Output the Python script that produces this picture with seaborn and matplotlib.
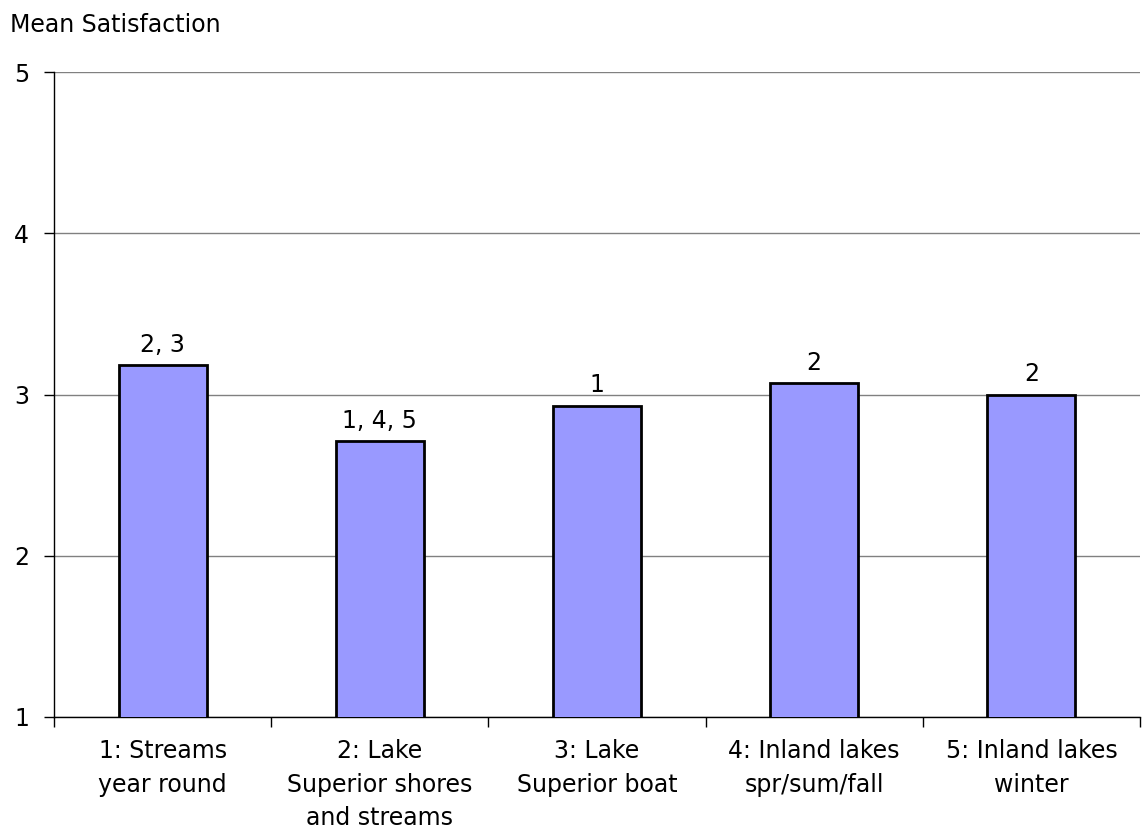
import numpy as np
import pandas as pd
import seaborn as sns
from matplotlib import pyplot as plt

categories = ["1: Streams\nyear round", "2: Lake\nSuperior shores\nand streams",
              "3: Lake\nSuperior boat", "4: Inland lakes\nspr/sum/fall", "5: Inland lakes\nwinter"]
means = [3.18, 2.71, 2.93, 3.07, 3.00]
sig_labels = ["2, 3", "1, 4, 5", "1", "2", "2"]
y_ticks = [1, 2, 3, 4, 5]

df = pd.DataFrame({"category": categories, "mean": means})

sns.set_style("white")
plt.rcParams['font.family'] = ['DejaVu Sans']
plt.rcParams['text.color'] = 'black'
plt.rcParams['xtick.color'] = 'black'
plt.rcParams['ytick.color'] = 'black'

fig = plt.figure(figsize=(11.42, 8.39), dpi=100)
ax = fig.add_axes([54/1142, 1 - 717/839, 1086/1142, 645/839])

sns.barplot(data=df, x="category", y="mean", color="#9999FF", saturation=1,
            width=0.405, edgecolor="black", linewidth=2, ax=ax, zorder=3)

ax.set_ylim(1, 5)
ax.set_xlim(-0.5, len(categories) - 0.5)
ax.set_yticks(y_ticks)
ax.set_yticklabels([str(t) for t in y_ticks], fontsize=17)
ax.yaxis.grid(True, color="#808080", linewidth=1)
ax.set_axisbelow(True)

# x ticks at category boundaries, labels centered
ax.set_xticks(np.arange(len(categories)))
ax.set_xticklabels(categories, fontsize=17, linespacing=1.5)
ax.set_xticks(np.arange(len(categories) + 1) - 0.5, minor=True)
ax.tick_params(axis="x", which="major", bottom=True, length=0, pad=16)
ax.tick_params(axis="x", which="minor", bottom=True, length=7, width=1, color="black", direction="out")
ax.tick_params(axis="y", left=True, length=7, width=1, color="black", direction="out", pad=11)

for s in ["top", "right"]:
    ax.spines[s].set_visible(False)
for s in ["left", "bottom"]:
    ax.spines[s].set_color("black")
    ax.spines[s].set_linewidth(1)

ax.bar_label(ax.containers[0], labels=sig_labels, padding=6, fontsize=17)

ax.set_xlabel("")
ax.set_ylabel("")
fig.text(10/1142, 1 - 25/839, "Mean Satisfaction", fontsize=17, va="center", ha="left")

fig.savefig("out.png", dpi=100)
